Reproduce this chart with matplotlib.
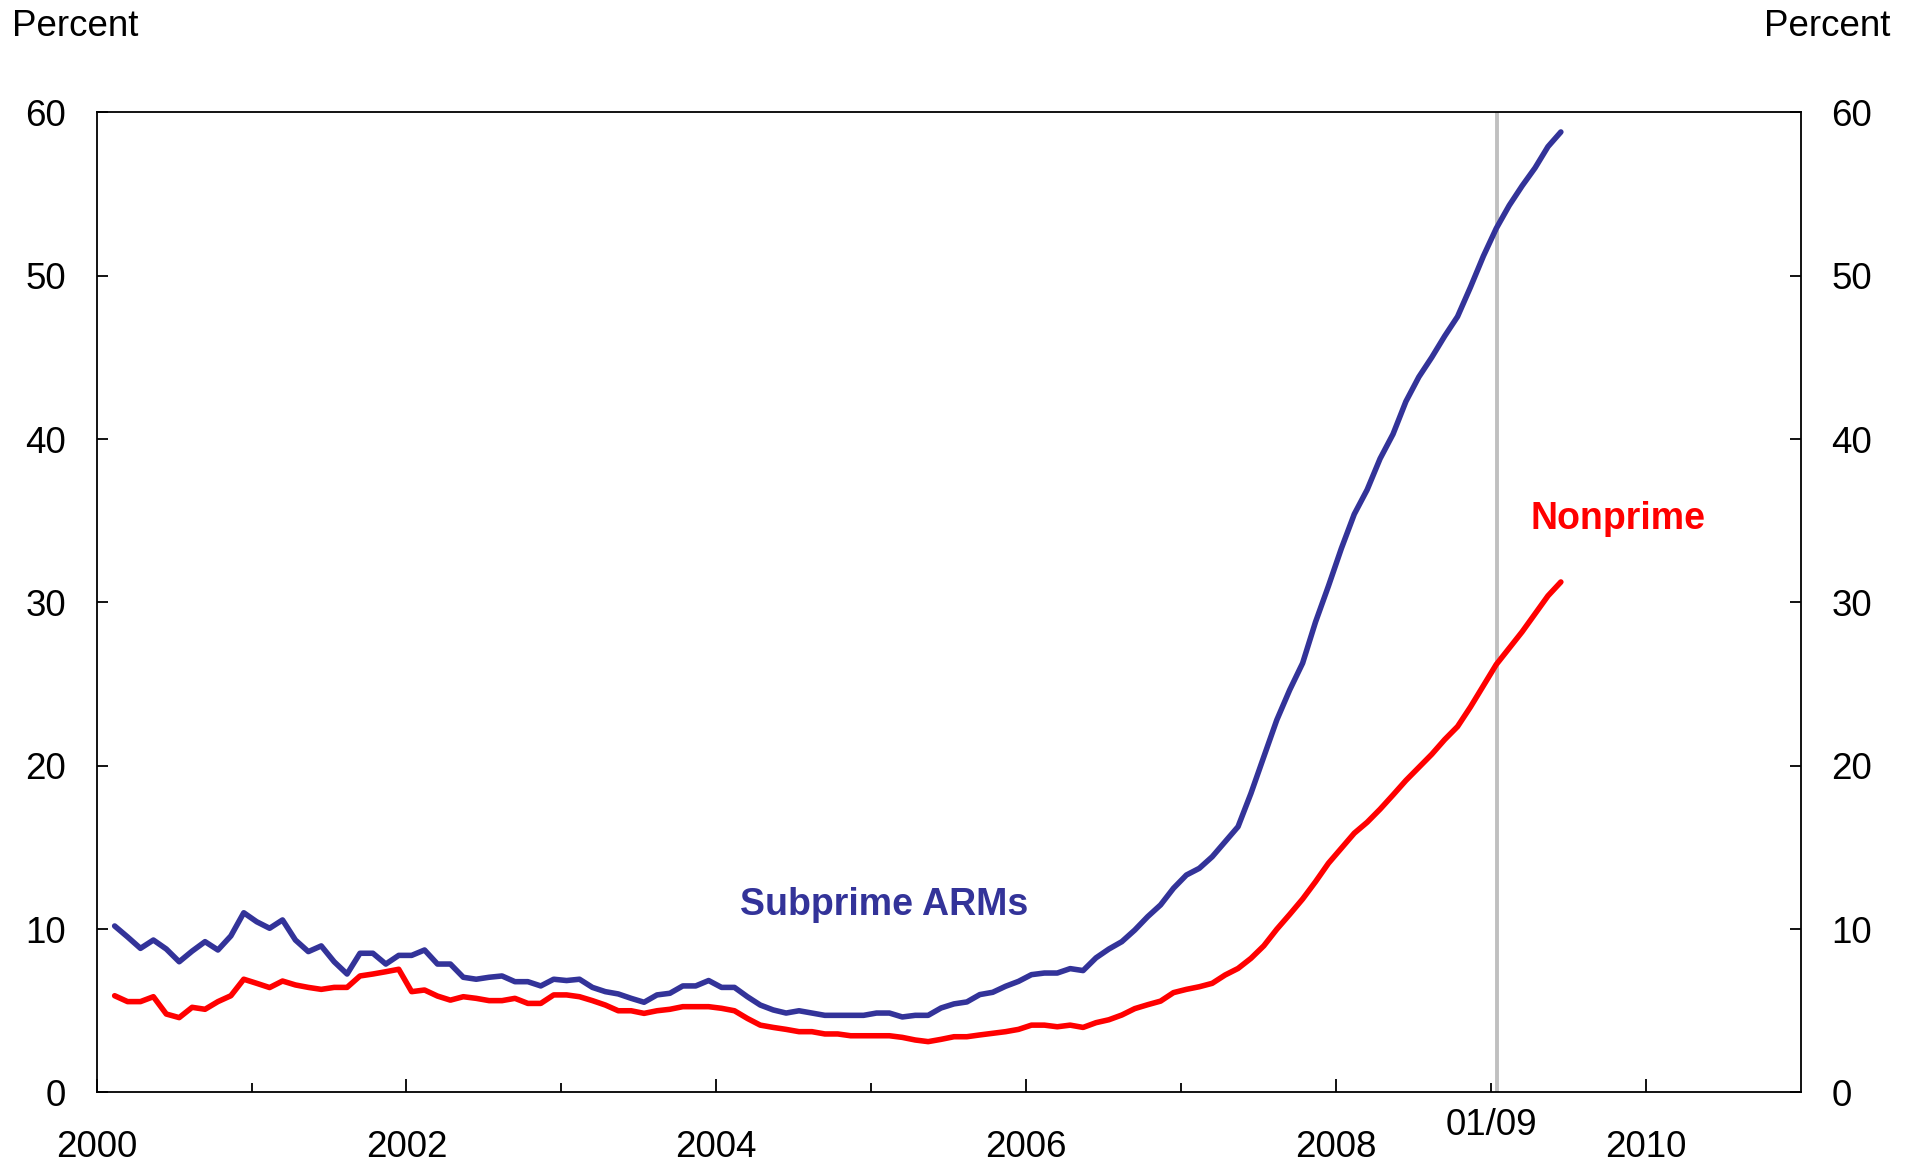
import matplotlib
matplotlib.use('Agg')
import matplotlib.pyplot as plt
import numpy as np

plt.rcParams['font.family'] = ['Liberation Sans', 'DejaVu Sans']

# monthly series, starting early 2000
subprime_arms = [
    10.19, 9.52, 8.82, 9.33, 8.78, 8.00, 8.65, 9.23, 8.72, 9.58,
    11.00, 10.45, 10.05, 10.56, 9.33, 8.62, 8.97, 8.00, 7.25, 8.52,
    8.52, 7.86, 8.39, 8.39, 8.72, 7.86, 7.86, 7.05, 6.93, 7.05,
    7.13, 6.78, 6.78, 6.52, 6.93, 6.85, 6.93, 6.43, 6.17, 6.03,
    5.76, 5.52, 5.97, 6.07, 6.52, 6.52, 6.85, 6.43, 6.43, 5.86,
    5.35, 5.05, 4.86, 5.00, 4.86, 4.72, 4.72, 4.72, 4.72, 4.86,
    4.86, 4.62, 4.72, 4.72, 5.17, 5.42, 5.54, 5.99, 6.13, 6.50,
    6.80, 7.21, 7.31, 7.31, 7.58, 7.46, 8.24, 8.78, 9.23, 9.94,
    10.76, 11.48, 12.50, 13.31, 13.72, 14.43, 15.35, 16.27, 18.31, 20.56,
    22.80, 24.64, 26.28, 28.80, 31.00, 33.30, 35.40, 36.90, 38.80, 40.30,
    42.30, 43.80, 45.00, 46.30, 47.50, 49.30, 51.20, 52.90, 54.30, 55.50,
    56.60, 57.90, 58.80,
]
nonprime = [
    5.92, 5.56, 5.56, 5.86, 4.80, 4.58, 5.21, 5.09, 5.56, 5.92,
    6.93, 6.68, 6.42, 6.82, 6.58, 6.43, 6.31, 6.43, 6.43, 7.13,
    7.25, 7.39, 7.54, 6.17, 6.27, 5.90, 5.65, 5.86, 5.76, 5.62,
    5.62, 5.76, 5.45, 5.45, 5.97, 5.97, 5.86, 5.62, 5.35, 5.00,
    5.00, 4.84, 5.00, 5.09, 5.25, 5.25, 5.25, 5.15, 5.00, 4.53,
    4.12, 3.98, 3.86, 3.72, 3.72, 3.58, 3.58, 3.47, 3.47, 3.47,
    3.47, 3.37, 3.21, 3.11, 3.25, 3.41, 3.41, 3.52, 3.62, 3.72,
    3.86, 4.12, 4.12, 4.02, 4.12, 3.98, 4.27, 4.45, 4.74, 5.13,
    5.37, 5.59, 6.11, 6.31, 6.47, 6.68, 7.19, 7.59, 8.21, 8.98,
    9.99, 10.90, 11.84, 12.90, 14.03, 14.95, 15.87, 16.54, 17.34, 18.21,
    19.10, 19.90, 20.70, 21.60, 22.40, 23.60, 24.90, 26.20, 27.20, 28.20,
    29.30, 30.40, 31.25,
]
dates = 2000 + (np.arange(len(subprime_arms)) + 1.4) / 12

major_years = [2000, 2002, 2004, 2006, 2008, 2010]
minor_years = [2001, 2003, 2005, 2007, 2009]
y_ticks = [0, 10, 20, 30, 40, 50, 60]

blue = '#333399'
red = '#ff0000'

fig = plt.figure(figsize=(19.16, 11.68), dpi=100)
ax = fig.add_axes([0.0504, 0.0647, 0.8896, 0.8391])

ax.axvline(2009.04, color='#c0c0c0', lw=2.8, zorder=1)
ax.plot(dates, subprime_arms, color=blue, lw=4.0, solid_capstyle='round', zorder=3)
ax.plot(dates, nonprime, color=red, lw=4.0, solid_capstyle='round', zorder=3)

ax.set_xlim(2000, 2011)
ax.set_ylim(0, 60)

ax.set_yticks(y_ticks)
ax.tick_params(axis='y', which='major', direction='in', length=8, width=1.3,
               left=True, right=True, labelleft=True, labelright=True,
               labelsize=26.5, pad=22)
ax.set_xticks(major_years)
ax.set_xticks(minor_years, minor=True)
ax.set_xticklabels([str(y) for y in major_years])
ax.set_xticklabels(['', '', '', '', '01/09'], minor=True)
ax.tick_params(axis='x', which='major', direction='in', length=9.5, width=1.3,
               labelsize=26.5, pad=27)
ax.tick_params(axis='x', which='minor', direction='in', length=6.5, width=1.3,
               labelsize=26.5, pad=11)

for s in ax.spines.values():
    s.set_linewidth(1.3)

ax.text(2005.08, 11.5, 'Subprime ARMs', color=blue, fontsize=27, fontweight='bold',
        ha='center', va='center')
ax.text(2009.82, 35.1, 'Nonprime', color=red, fontsize=27, fontweight='bold',
        ha='center', va='center')

fig.text(11.7 / 1916, 1 - 36 / 1168, 'Percent', fontsize=26.5, ha='left', va='baseline')
fig.text(1890 / 1916, 1 - 36 / 1168, 'Percent', fontsize=26.5, ha='right', va='baseline')

fig.savefig('out.png', dpi=100)
